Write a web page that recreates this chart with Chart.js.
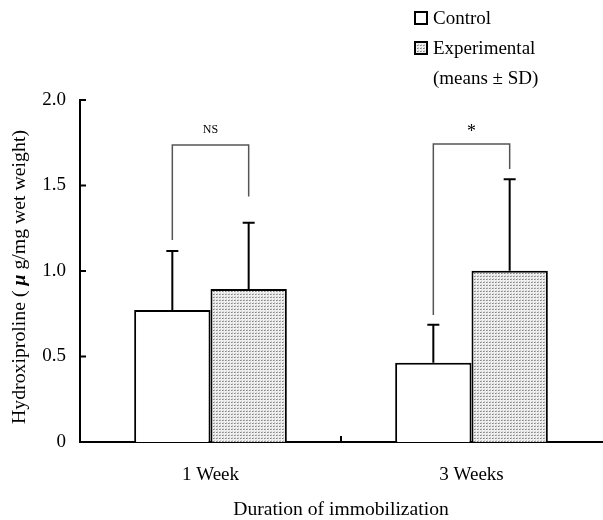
<!DOCTYPE html>
<html>
<head>
<meta charset="utf-8">
<script src="https://cdn.jsdelivr.net/npm/chart.js@4"></script>
<style>
    body { margin: 0; background: #fff; }
    #wrap { width: 603px; height: 520px; }
</style>
</head>
<body>
<div id="wrap"><canvas id="chart" width="603" height="520"></canvas></div>
<script>
// Hydroxiproline content after immobilization (means ± SD)
const categories = ['1 Week', '3 Weeks'];
const seriesNames = ['Control', 'Experimental'];
const controlMeans = [0.772, 0.464];
const controlSD = [0.345, 0.222];
const experimentalMeans = [0.895, 1.002];
const experimentalSD = [0.387, 0.534];
const yTicks = [0, 0.5, 1.0, 1.5, 2.0];

// significance brackets: category index, label, bracket top, left leg end, right leg end
const brackets = [
    { cat: 0, label: 'NS', top: 1.737, left: 1.181, right: 1.435 },
    { cat: 1, label: '*', top: 1.743, left: 0.743, right: 1.596 }
];

const FONT = '"Liberation Serif", "Times New Roman", serif';

function makeStipple() {
    const c = document.createElement('canvas');
    c.width = 3; c.height = 3;
    const g = c.getContext('2d');
    g.fillStyle = '#efefef';
    g.fillRect(0, 0, 3, 3);
    g.fillStyle = '#858585';
    g.fillRect(0, 0, 1, 1);
    g.fillStyle = '#b0b0b0';
    g.fillRect(1, 0, 1, 1);
    g.fillStyle = '#cccccc';
    g.fillRect(1, 2, 1, 1);
    return document.getElementById('chart').getContext('2d').createPattern(c, 'repeat');
}

const stipple = makeStipple();
const sds = [controlSD, experimentalSD];

const extrasPlugin = {
    id: 'extras',
    afterDatasetsDraw(chart) {
        const ctx = chart.ctx;
        const y = chart.scales.y;
        const x = chart.scales.x;
        const area = chart.chartArea;
        ctx.save();

        // error bars (upper only)
        ctx.strokeStyle = '#000';
        ctx.lineWidth = 2;
        chart.data.datasets.forEach((ds, di) => {
            const meta = chart.getDatasetMeta(di);
            meta.data.forEach((bar, i) => {
                const top = y.getPixelForValue(ds.data[i]);
                const end = y.getPixelForValue(ds.data[i] + sds[di][i]);
                ctx.beginPath();
                ctx.moveTo(bar.x, top);
                ctx.lineTo(bar.x, end);
                ctx.moveTo(bar.x - 6, end);
                ctx.lineTo(bar.x + 6, end);
                ctx.stroke();
            });
        });

        // significance brackets
        const m0 = chart.getDatasetMeta(0), m1 = chart.getDatasetMeta(1);
        brackets.forEach(b => {
            const xl = m0.data[b.cat].x, xr = m1.data[b.cat].x;
            const yt = y.getPixelForValue(b.top);
            ctx.strokeStyle = '#555';
            ctx.lineWidth = 1.5;
            ctx.beginPath();
            ctx.moveTo(xl, y.getPixelForValue(b.left));
            ctx.lineTo(xl, yt);
            ctx.lineTo(xr, yt);
            ctx.lineTo(xr, y.getPixelForValue(b.right));
            ctx.stroke();
            ctx.fillStyle = '#000';
            ctx.textAlign = 'center';
            ctx.textBaseline = 'middle';
            if (b.label === '*') {
                ctx.font = '18px ' + FONT;
                ctx.fillText(b.label, (xl + xr) / 2, yt - 12);
            } else {
                ctx.font = '12px ' + FONT;
                ctx.fillText(b.label, (xl + xr) / 2, yt - 15);
            }
        });

        // inward ticks
        ctx.strokeStyle = '#000';
        ctx.lineWidth = 2;
        ctx.beginPath();
        yTicks.forEach(v => {
            const py = y.getPixelForValue(v);
            ctx.moveTo(area.left, py);
            ctx.lineTo(area.left + 6, py);
        });
        for (let i = 0; i < categories.length - 1; i++) {
            const px = x.getPixelForValue(i + 0.5);
            ctx.moveTo(px, area.bottom);
            ctx.lineTo(px, area.bottom - 6);
        }
        ctx.stroke();

        // legend
        ctx.font = '19px ' + FONT;
        ctx.textAlign = 'left';
        ctx.textBaseline = 'middle';
        ctx.fillStyle = '#000';
        const fills = ['#fff', stipple];
        seriesNames.forEach((name, i) => {
            const cy = 18 + i * 30;
            ctx.fillStyle = fills[i];
            ctx.fillRect(415, cy - 6, 12, 12);
            ctx.strokeStyle = '#000';
            ctx.lineWidth = 2;
            ctx.strokeRect(415, cy - 6, 12, 12);
            ctx.fillStyle = '#000';
            ctx.fillText(name, 433, cy + 1);
        });
        ctx.fillText('(means \u00b1 SD)', 433, 79);

        // y axis title with italic mu
        const parts = [
            { t: 'Hydroxiproline ( ', f: '19.8px ' + FONT },
            { t: '\u03bc', f: 'italic bold 19.8px ' + FONT },
            { t: ' g/mg wet weight)', f: '19.8px ' + FONT }
        ];
        let total = 0;
        parts.forEach(p => { ctx.font = p.f; p.w = ctx.measureText(p.t).width; total += p.w; });
        ctx.translate(20, 277);
        ctx.rotate(-Math.PI / 2);
        let cx = -total / 2;
        parts.forEach(p => {
            ctx.font = p.f;
            ctx.fillText(p.t, cx, 0);
            cx += p.w;
        });
        ctx.restore();
    }
};

new Chart(document.getElementById('chart'), {
    type: 'bar',
    data: {
        labels: categories,
        datasets: [
            {
                label: seriesNames[0],
                data: controlMeans,
                backgroundColor: '#fff',
                borderColor: '#000',
                borderWidth: 2
            },
            {
                label: seriesNames[1],
                data: experimentalMeans,
                backgroundColor: stipple,
                borderColor: '#000',
                borderWidth: 2
            }
        ]
    },
    options: {
        responsive: false,
        animation: false,
        categoryPercentage: 0.585,
        barPercentage: 1,
        layout: { padding: { top: 100, right: 1, left: 0, bottom: 0 } },
        plugins: {
            legend: { display: false },
            tooltip: { enabled: false }
        },
        scales: {
            x: {
                grid: { display: false, drawTicks: false },
                border: { display: true, color: '#000', width: 2 },
                ticks: { color: '#000', font: { family: FONT, size: 19 }, padding: 22 },
                title: {
                    display: true,
                    text: 'Duration of immobilization',
                    color: '#000',
                    font: { family: FONT, size: 19.6, lineHeight: 1.05 },
                    padding: { top: 0, bottom: 0 }
                },
                afterFit(scale) { scale.height = 78; }
            },
            y: {
                min: 0,
                max: 2,
                grid: { display: false, drawTicks: false },
                border: { display: true, color: '#000', width: 2 },
                ticks: {
                    stepSize: 0.5,
                    color: '#000',
                    padding: 14,
                    font: { family: FONT, size: 19 },
                    callback: v => v === 0 ? '0' : v.toFixed(1)
                },
                afterFit(scale) { scale.width = 80; }
            }
        }
    },
    plugins: [extrasPlugin]
});
</script>
</body>
</html>
